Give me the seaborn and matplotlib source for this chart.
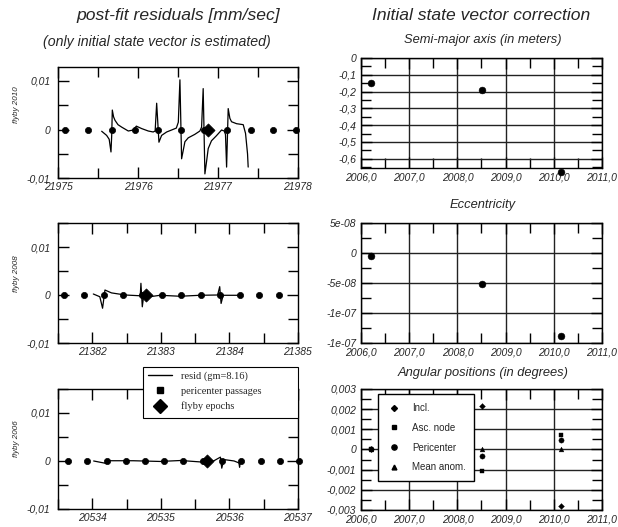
import numpy as np
import matplotlib
matplotlib.use("Agg")
import matplotlib.pyplot as plt
import seaborn as sns
from matplotlib.lines import Line2D
from matplotlib.patches import Rectangle
from matplotlib.ticker import MultipleLocator

sns.set_theme(style="white")
plt.rcParams['font.family'] = ['Liberation Sans', 'DejaVu Sans']
plt.rcParams['font.style'] = 'italic'

# --- residuals, flyby 2010 (days offset from 21975, residual in 1e-3 mm/s)
t2010 = [0.546, 0.608, 0.64, 0.6625, 0.672, 0.679, 0.695, 0.7125, 0.75, 0.796, 0.879, 0.94,
         0.98, 1.046, 1.129, 1.19, 1.215, 1.234, 1.2625, 1.296, 1.359, 1.42, 1.48, 1.505,
         1.525, 1.546, 1.5875, 1.629, 1.71, 1.775, 1.796, 1.816, 1.8375, 1.858, 1.879,
         1.92, 1.98, 2.046, 2.079, 2.095, 2.109, 2.129, 2.15, 2.171, 2.234, 2.317, 2.346,
         2.371, 2.379]
r2010 = [-0.35, -1.2, -2.0, -4.6, -1.0, 4.0, 2.6, 1.9, 1.0, 0.5, -0.3, -0.1,
         0.7, 0.2, -0.3, -0.5, -0.3, 5.4, -2.6, -1.2, -0.5, -0.1, 0.3, 1.5,
         10.2, -6.0, -2.5, -1.7, -1.0, -0.3, 0.5, 8.4, -9.1, -6.6, -3.9,
         -2.3, -1.3, -0.1, -0.3, -1.0, -7.7, 4.3, 2.3, 1.6, 1.2, 1.0, -0.8,
         -5.0, -7.7]
peri2010 = [0.09, 0.38, 0.67, 0.96, 1.25, 1.54, 1.825, 2.11, 2.41, 2.69, 2.98]
flyby2010 = [1.88]

# --- residuals, flyby 2008 (days offset from 21381)
t2008 = [1.015, 1.11, 1.15, 1.185, 1.28, 1.48, 1.70, 1.71, 1.73, 1.75, 1.78, 1.84,
         1.99, 2.28, 2.57, 2.83, 2.86, 2.88, 2.91, 3.15]
r2008 = [0.27, -0.3, -2.7, 1.1, 0.5, 0.06, -0.1, 2.5, -2.4, -0.1, 0.5, -0.3,
         0.0, -0.2, 0.0, 0.06, 1.8, -1.7, 0.0, 0.0]
peri2008 = [0.59, 0.88, 1.17, 1.45, 1.73, 2.02, 2.30, 2.58, 2.87, 3.15, 3.44, 3.73]
flyby2008 = [1.79]

# --- residuals, flyby 2006 (days offset from 20533)
t2006 = [1.02, 1.2, 1.26, 1.60, 1.99, 2.29, 2.58, 2.67, 2.77, 2.87, 2.89, 2.92,
         3.07, 3.14, 3.15, 3.16]
r2006 = [0.0, -0.5, 0.05, 0.05, -0.1, 0.1, -0.2, 0.3, 0.0, 0.8, -1.5, 0.3,
         0.0, -0.4, -1.3, -0.2]
peri2006 = [0.64, 0.92, 1.21, 1.49, 1.77, 2.05, 2.33, 2.61, 2.89, 3.17, 3.46, 3.74, 4.02]
flyby2006 = [2.67]

# --- initial state vector corrections
years = [2006.21, 2008.52, 2010.14]
semi_major = [-0.149, -0.192, -0.676]
eccentricity = [-4e-09, -5.1e-08, -1.378e-07]
incl = [0.0, 0.00215, -0.0028]
asc_node = [0.0, -0.00105, 0.00072]
pericenter = [0.0, -0.00033, 0.00048]
mean_anom = [0.0, 0.00003, 0.0]

left_base = [21975, 21381, 20533]
left_xlim = [(0.0, 3.0), (0.5, 4.0), (0.5, 4.0)]
left_xticks = [[21975, 21976, 21977, 21978], [21382, 21383, 21384, 21385],
               [20534, 20535, 20536, 20537]]
left_ytop = [0.0129, 0.015, 0.015]
left_ylabels = ["flyby 2010", "flyby 2008", "flyby 2006"]
year_labels = ["2006,0", "2007,0", "2008,0", "2009,0", "2010,0", "2011,0"]

W, H = 618, 527
fig = plt.figure(figsize=(W / 100, H / 100), dpi=100)

left_pos = [[0.0939, 0.6617, 0.388, 0.2118],
            [0.0939, 0.3486, 0.388, 0.2277],
            [0.0939, 0.0342, 0.388, 0.2277]]
right_pos = [[0.5841, 0.6812, 0.39, 0.2087],
             [0.5841, 0.3486, 0.39, 0.2277],
             [0.5841, 0.0323, 0.39, 0.2296]]
ylabel_y = [105, 274, 439]  # pixel rows of the flyby labels


def style_axes(ax, ypad):
    for sp in ax.spines.values():
        sp.set_color('black')
        sp.set_linewidth(1.0)
    ax.tick_params(which='both', direction='in', top=True, right=True,
                   left=True, bottom=True, color='black', width=1.0,
                   labelsize=7.5)
    ax.tick_params(axis='x', which='both', pad=3)
    ax.tick_params(axis='y', which='both', pad=ypad)
    ax.tick_params(which='major', length=8)
    ax.tick_params(which='minor', length=7)
    ax.set_xlabel("")
    ax.set_ylabel("")


series = [(t2010, r2010, peri2010, flyby2010),
          (t2008, r2008, peri2008, flyby2008),
          (t2006, r2006, peri2006, flyby2006)]

for i, (tt, rr, pp, ff) in enumerate(series):
    ax = fig.add_axes(left_pos[i])
    base = left_base[i]
    x = np.array(tt) + base
    y = np.array(rr) * 1e-3
    sns.lineplot(x=x, y=y, ax=ax, color='black', lw=0.9, sort=False, estimator=None)
    sns.scatterplot(x=np.array(pp) + base, y=np.zeros(len(pp)), ax=ax, marker='o',
                    s=20, color='black', edgecolor='black', linewidth=0.5,
                    clip_on=False, zorder=3)
    sns.scatterplot(x=np.array(ff) + base, y=np.zeros(len(ff)), ax=ax, marker='D',
                    s=45, color='black', edgecolor='black', linewidth=0.5,
                    clip_on=False, zorder=4)
    ax.set_xlim(base + left_xlim[i][0], base + left_xlim[i][1])
    ax.set_ylim(-0.01, left_ytop[i])
    ax.set_xticks(left_xticks[i])
    ax.set_xticklabels([str(v) for v in left_xticks[i]])
    ax.xaxis.set_minor_locator(MultipleLocator(0.5))
    ax.set_yticks([-0.01, 0, 0.01])
    ax.set_yticklabels(["-0,01", "0", "0,01"])
    ax.yaxis.set_minor_locator(MultipleLocator(0.005))
    style_axes(ax, 5.5)
    fig.text(0.026, 1 - ylabel_y[i] / H, left_ylabels[i], rotation=90, ha='center',
             va='center', fontsize=5.8)

# left legend: frame drawn as a box of its own, wider than the entries
fig.patches.append(Rectangle((143 / W, 1 - 418 / H), 155 / W, 51 / H,
                             transform=fig.transFigure, facecolor='white',
                             edgecolor='black', lw=0.8, zorder=4))
handles = [Line2D([], [], color='black', lw=1.0),
           Line2D([], [], color='black', marker='s', ls='none', ms=4),
           Line2D([], [], color='black', marker='D', ls='none', ms=7)]
leg = fig.legend(handles, ["resid (gm=8.16)", "pericenter passages", "flyby epochs"],
                 loc='upper left', bbox_to_anchor=(145 / W, 1 - 368 / H), frameon=False,
                 handlelength=2.3, handletextpad=0.9, borderpad=0.3,
                 labelspacing=0.55, borderaxespad=0,
                 prop={'family': 'Liberation Serif', 'style': 'normal', 'size': 7.5})
leg.set_zorder(5)

# right column
grid_kw = dict(color='#222222', lw=1.0)

ax = fig.add_axes(right_pos[0])
sns.scatterplot(x=years, y=semi_major, ax=ax, marker='o', s=24, color='black',
                edgecolor='black', clip_on=False, zorder=3)
ax.set_ylim(-0.655, 0)
ax.set_yticks([0, -0.1, -0.2, -0.3, -0.4, -0.5, -0.6])
ax.set_yticklabels(["0", "-0,1", "-0,2", "-0,3", "-0,4", "-0,5", "-0,6"])
ax.yaxis.set_minor_locator(MultipleLocator(0.05))
axes_right = [ax]

ax = fig.add_axes(right_pos[1])
sns.scatterplot(x=years, y=eccentricity, ax=ax, marker='o', s=24, color='black',
                edgecolor='black', clip_on=False, zorder=3)
ax.set_ylim(-1.5e-07, 5e-08)
ax.set_yticks([5e-08, 0, -5e-08, -1e-07, -1.5e-07])
ax.set_yticklabels(["5e-08", "0", "-5e-08", "-1e-07", "-1e-07"])
ax.yaxis.set_minor_locator(MultipleLocator(2.5e-08))
axes_right.append(ax)

ax = fig.add_axes(right_pos[2])
ang = [("Incl.", incl, 'D', 9), ("Asc. node", asc_node, 's', 12),
       ("Pericenter", pericenter, 'o', 14), ("Mean anom.", mean_anom, '^', 12)]
for name, vals, mk, sz in ang:
    sns.scatterplot(x=years, y=vals, ax=ax, marker=mk, s=sz, color='black',
                    edgecolor='black', clip_on=False, zorder=3)
ax.set_ylim(-0.003, 0.003)
ax.set_yticks([0.003, 0.002, 0.001, 0, -0.001, -0.002, -0.003])
ax.set_yticklabels(["0,003", "0,002", "0,001", "0", "-0,001", "-0,002", "-0,003"])
ax.yaxis.set_minor_locator(MultipleLocator(0.0005))
leg_handles = [Line2D([], [], color='black', marker=mk, ls='none', ms=np.sqrt(sz))
               for name, vals, mk, sz in ang]
ax.legend(leg_handles, [a[0] for a in ang], loc='upper left',
          bbox_to_anchor=(0.0705, 0.955), frameon=True, fancybox=False,
          edgecolor='black', framealpha=1, handlelength=1.4, handletextpad=1.2,
          borderpad=0.9, labelspacing=1.0, borderaxespad=0,
          prop={'family': 'Liberation Sans', 'style': 'normal', 'size': 7})
axes_right.append(ax)

for ax in axes_right:
    ax.set_xlim(2006, 2011)
    ax.set_xticks([2006, 2007, 2008, 2009, 2010, 2011])
    ax.set_xticklabels(year_labels)
    ax.xaxis.set_minor_locator(MultipleLocator(0.5))
    ax.grid(True, which='major', **grid_kw)
    ax.set_axisbelow(True)
    style_axes(ax, 3.5)

# titles
fig.text(0.289, 0.9715, "post-fit residuals [mm/sec]", ha='center', va='center', fontsize=12.6)
fig.text(0.254, 0.920, "(only initial state vector is estimated)", ha='center',
         va='center', fontsize=10.2)
fig.text(0.778, 0.9715, "Initial state vector correction", ha='center', va='center',
         fontsize=12.6)
fig.text(0.781, 0.924, "Semi-major axis (in meters)", ha='center', va='center', fontsize=9.3)
fig.text(0.781, 0.611, "Eccentricity", ha='center', va='center', fontsize=9.3)
fig.text(0.781, 0.292, "Angular positions (in degrees)", ha='center', va='center',
         fontsize=9.3)

fig.savefig("out.png", dpi=100)
